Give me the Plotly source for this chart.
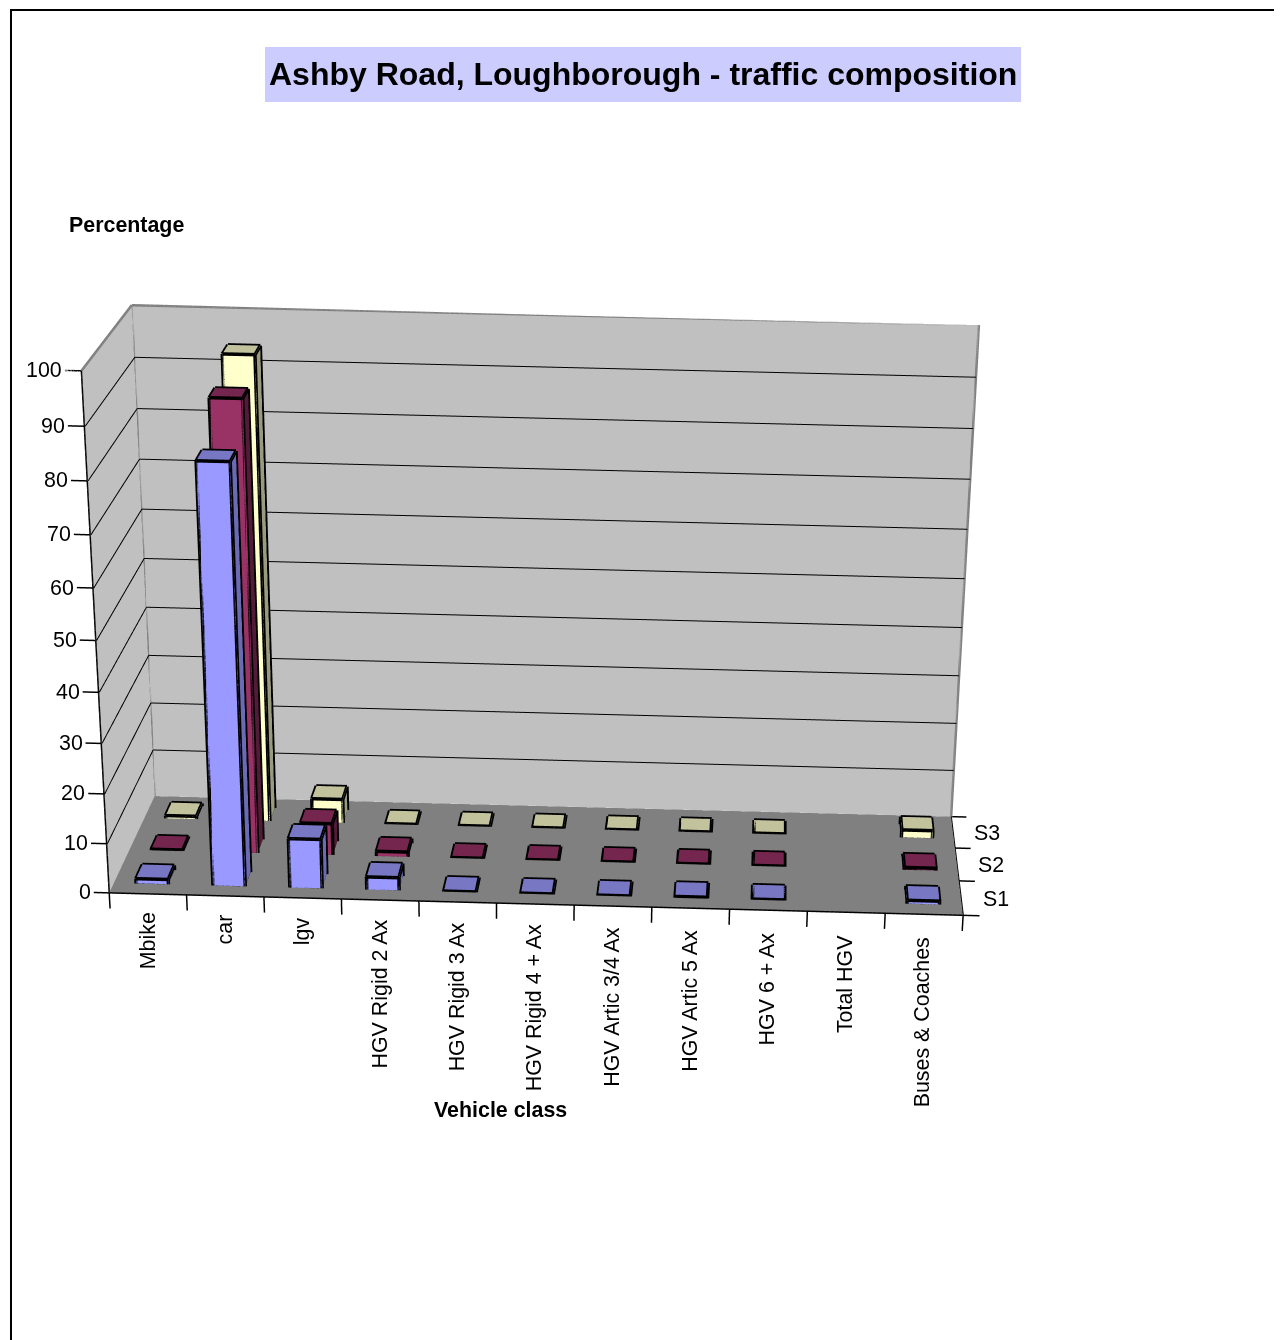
import numpy as np
import plotly.graph_objects as go

# ---------- data ----------
categories = ["Mbike", "car", "lgv", "HGV Rigid 2 Ax", "HGV Rigid 3 Ax", "HGV Rigid 4 + Ax",
              "HGV Artic 3/4 Ax", "HGV Artic 5 Ax", "HGV 6 + Ax", "Total HGV", "Buses & Coaches"]
series_names = ["S1", "S2", "S3"]
s1 = [1.0, 82.8, 10.0, 2.6, 0.1, 0.1, 0.1, 0.25, 0.12, None, 0.7]
s2 = [0.2, 90.0, 6.5, 1.0, 0.1, 0.1, 0.1, 0.1, 0.1, None, 0.5]
s3 = [0.6, 94.0, 5.0, 0.1, 0.1, 0.1, 0.1, 0.1, 0.1, None, 1.6]
z_ticks = [0, 10, 20, 30, 40, 50, 60, 70, 80, 90, 100]
title_text = "Ashby Road, Loughborough - traffic composition"
y_title = "Percentage"
x_title = "Vehicle class"

front_colors = ["#9999FF", "#993366", "#FFFFCC"]
top_colors = ["#7777C4", "#75264F", "#C2C29C"]
side_colors = ["#6A6AB5", "#521B38", "#9A9A7E"]
BAR_W, BAR_D = 0.42, 0.42
W, H = 1282, 3200   # tall figure: the window shows the top 1340 px; gives the narrow field of view
OFF = 8             # page body margin

n_x, n_y, z_max = len(categories), len(series_names), 100
x_lo, x_hi = -0.25, n_x + 0.3
y_lo, y_hi = 0.0, float(n_y)
z_lo, z_hi = -5.0, 100.0

# camera (world units: box centred on origin, width 1)
A = np.array([1.0, 0.3738, 0.59465])
EYE = np.array([0.24222, -4.52769, 1.18941])
FWD = np.array([-0.01878, 0.87286, -0.48762])
UP = dict(x=-0.02967, y=0.487, z=0.8729)
CEN = EYE + 4.6 * FWD

k = A / np.array([n_x, n_y, z_max])
mid = np.array([(x_lo + x_hi) / 2, (y_lo + y_hi) / 2, (z_lo + z_hi) / 2])
shift = k * (np.array([n_x / 2, n_y / 2, z_max / 2]) - mid)
ASP = k * np.array([x_hi - x_lo, y_hi - y_lo, z_hi - z_lo])
E = EYE + shift
C = CEN + shift

FLAT = dict(ambient=1.0, diffuse=0.0, specular=0.0, fresnel=0.0, roughness=1.0)


def mesh_from_boxes(boxes):
    X, Y, Z, I, J_, K, FC = [], [], [], [], [], [], []
    for x0, x1, y0, y1, z1, cf, ct, cs in boxes:
        b = len(X)
        for xx, yy, zz in [(x0, y0, 0), (x1, y0, 0), (x1, y1, 0), (x0, y1, 0),
                           (x0, y0, z1), (x1, y0, z1), (x1, y1, z1), (x0, y1, z1)]:
            X.append(xx); Y.append(yy); Z.append(zz)
        faces = [((0, 1, 5), cf), ((0, 5, 4), cf), ((4, 5, 6), ct), ((4, 6, 7), ct),
                 ((1, 2, 6), cs), ((1, 6, 5), cs), ((3, 0, 4), cs), ((3, 4, 7), cs)]
        for (a, c, d), col in faces:
            I.append(b + a); J_.append(b + c); K.append(b + d); FC.append(col)
    return go.Mesh3d(x=X, y=Y, z=Z, i=I, j=J_, k=K, facecolor=FC, flatshading=True, hoverinfo="skip",
                     lighting=FLAT, showscale=False)


def lines(segs, color, width):
    X, Y, Z = [], [], []
    for (a, b) in segs:
        X += [a[0], b[0], None]; Y += [a[1], b[1], None]; Z += [a[2], b[2], None]
    return go.Scatter3d(x=X, y=Y, z=Z, mode="lines", line=dict(color=color, width=width), hoverinfo="skip",
                        showlegend=False)


def quad(p0, p1, p2, p3, col):
    xs, ys, zs = zip(p0, p1, p2, p3)
    return go.Mesh3d(x=xs, y=ys, z=zs, i=[0, 0], j=[1, 2], k=[2, 3], color=col, flatshading=True, hoverinfo="skip",
                     lighting=FLAT)


traces = [
    quad((0, n_y, 0), (n_x, n_y, 0), (n_x, n_y, z_max), (0, n_y, z_max), "#C0C0C0"),
    quad((0, 0, 0), (0, n_y, 0), (0, n_y, z_max), (0, 0, z_max), "#C0C0C0"),
    quad((0, 0, 0), (n_x, 0, 0), (n_x, n_y, 0), (0, n_y, 0), "#808080"),
]

boxes, edges = [], []
for r_, vals in enumerate([s1, s2, s3]):
    for c, v in enumerate(vals):
        if v is None:
            continue
        x0, x1 = c + 0.5 - BAR_W / 2, c + 0.5 + BAR_W / 2
        y0, y1 = r_ + 0.5 - BAR_D / 2, r_ + 0.5 + BAR_D / 2
        boxes.append((x0, x1, y0, y1, v, front_colors[r_], top_colors[r_], side_colors[r_]))
        b = [(x0, y0, 0), (x1, y0, 0), (x1, y1, 0), (x0, y1, 0)]
        t = [(x0, y0, v), (x1, y0, v), (x1, y1, v), (x0, y1, v)]
        for i in range(4):
            edges.append((b[i], b[(i + 1) % 4]))
            edges.append((t[i], t[(i + 1) % 4]))
            edges.append((b[i], t[i]))
traces.append(mesh_from_boxes(boxes))
traces.append(lines(edges, "#000000", 7))

eps_y, eps_x = n_y - 0.01, 0.01
grid = []
for v in z_ticks[1:-1]:
    grid.append(((eps_x, 0, v), (eps_x, eps_y, v)))
    grid.append(((eps_x, eps_y, v), (n_x, eps_y, v)))
traces.append(lines(grid, "#000000", 2))

outline = [((0, 0, z_max), (0, n_y, z_max)), ((0, n_y, z_max), (n_x, n_y, z_max)),
           ((0, n_y, 0), (0, n_y, z_max)), ((n_x, n_y, 0), (n_x, n_y, z_max))]
traces.append(lines(outline, "#808080", 5))

ax = [((0, 0, 0), (0, 0, z_max)), ((0, 0, 0), (n_x, 0, 0)), ((n_x, 0, 0), (n_x, n_y, 0))]
for v in z_ticks:
    ax.append(((0, 0, v), (-0.2, 0, v)))
for c in range(n_x + 1):
    ax.append(((c, 0, 0), (c, 0, -3.2)))
for r_ in range(n_y + 1):
    ax.append(((n_x, r_, 0), (n_x + 0.21, r_, 0)))
traces.append(lines(ax, "#000000", 3))

FONT = "Liberation Sans, Arial, sans-serif"
FS = 21.4
scene_ann = []
for v in z_ticks:
    scene_ann.append(dict(x=x_lo, y=0, z=v, text=str(v), showarrow=False, xanchor="right", yanchor="middle",
                          xshift=3, font=dict(family=FONT, size=FS, color="#000")))
for c, name in enumerate(categories):
    scene_ann.append(dict(x=c + 0.5, y=0, z=-4.3, text=name, showarrow=False, textangle=-90,
                          xanchor="center", yanchor="top", xshift=-1, yshift=5 * (1 - c / 10),
                          font=dict(family=FONT, size=FS, color="#000")))
for r_, name in enumerate(series_names):
    scene_ann.append(dict(x=x_hi, y=r_ + 0.5, z=0, text=name, showarrow=False, xanchor="left", yanchor="middle",
                          xshift=-3, font=dict(family=FONT, size=FS, color="#000")))


def fx(x): return (x - OFF) / W
def fy(y): return 1 - (y - OFF) / H
def px(x, y): return dict(x=fx(x), y=fy(y), xref="paper", yref="paper", showarrow=False,
                          xanchor="center", yanchor="middle")


fig = go.Figure(traces)
hidden = dict(visible=False, showgrid=False, zeroline=False, showbackground=False, showspikes=False)
fig.update_layout(
    width=W, height=H, margin=dict(l=0, r=0, t=0, b=0), paper_bgcolor="#FFFFFF", showlegend=False,
    scene=dict(
        domain=dict(x=[0, 1], y=[0, 1]),
        bgcolor="rgba(0,0,0,0)",
        xaxis=dict(range=[x_lo, x_hi], **hidden),
        yaxis=dict(range=[y_lo, y_hi], **hidden),
        zaxis=dict(range=[z_lo, z_hi], **hidden),
        aspectmode="manual",
        aspectratio=dict(x=float(ASP[0]), y=float(ASP[1]), z=float(ASP[2])),
        camera=dict(eye=dict(x=float(E[0]), y=float(E[1]), z=float(E[2])),
                    center=dict(x=float(C[0]), y=float(C[1]), z=float(C[2])),
                    up=UP),
        annotations=scene_ann,
    ),
    annotations=[
        dict(**px(643, 74.5), text="<b>%s</b>" % title_text, font=dict(family=FONT, size=32, color="#000")),
        dict(**px(126, 225), text="<b>%s</b>" % y_title, font=dict(family=FONT, size=FS, color="#000")),
        dict(**px(500, 1110), text="<b>%s</b>" % x_title, font=dict(family=FONT, size=FS, color="#000")),
    ],
    shapes=[dict(type="rect", xref="paper", yref="paper", layer="below", x0=fx(265), x1=fx(1021), y0=fy(102), y1=fy(47),
                 fillcolor="#CCCCFF", line=dict(width=0)),
            dict(type="path", xref="paper", yref="paper", layer="above",
                 path="M %f %f L %f %f L %f %f L %f %f" % (fx(11), fy(1400), fx(11), fy(10), fx(1275), fy(10), fx(1275), fy(1400)),
                 line=dict(color="#000", width=2))],
)
fig.write_html("out.html", config=dict(displayModeBar=False), default_width="%dpx" % W, default_height="%dpx" % H,
               post_script="document.documentElement.style.overflow='hidden';document.body.style.overflow='hidden';")
